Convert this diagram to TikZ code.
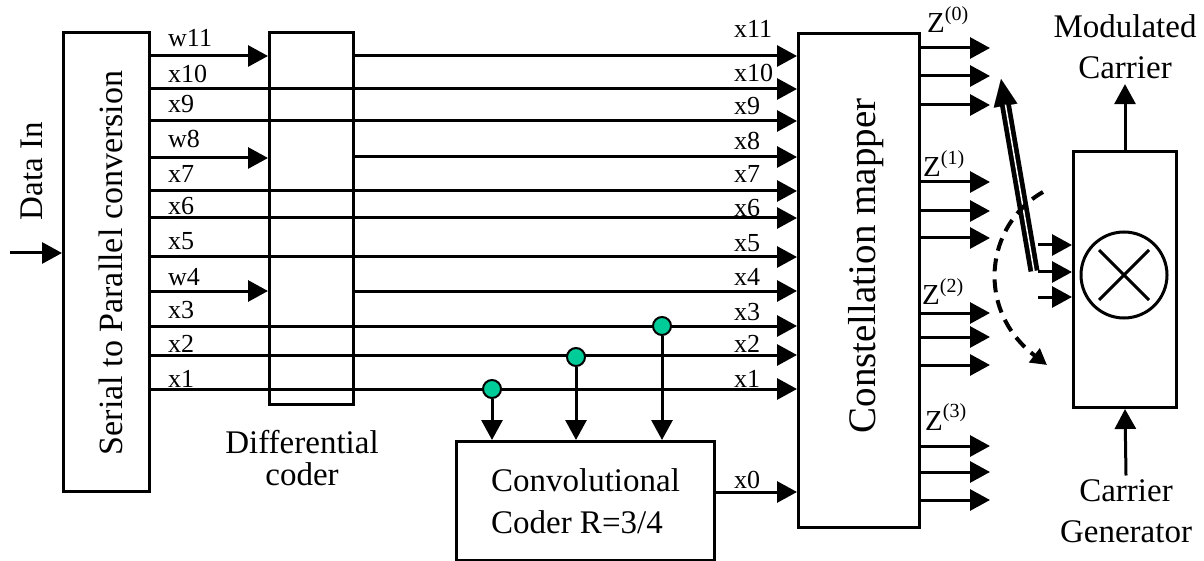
\documentclass[tikz,border=0pt]{standalone}
\usepackage{fontspec}
\setmainfont{Liberation Serif}
\usetikzlibrary{arrows.meta}
\definecolor{dotgreen}{RGB}{0,204,153}
\begin{document}
\begin{tikzpicture}[x=1pt,y=-1pt,
  ln/.style={line width=3pt},
  arr/.style={ln,-{Triangle[length=20pt,width=21pt]}},
  box/.style={draw,line width=3pt,inner sep=0pt,anchor=north west},
  lab/.style={font=\fontsize{26}{30}\selectfont,anchor=base west,inner sep=0pt},
  big/.style={font=\fontsize{33}{41}\selectfont,inner sep=0pt},
  zlab/.style={font=\fontsize{29}{30}\selectfont,anchor=base west,inner sep=0pt},
  tap/.style={circle,draw,line width=2pt,fill=dotgreen,minimum size=18pt,inner sep=0pt},
]
\useasboundingbox (0,0) rectangle (1204,561);

% blocks
\node[box,minimum width=86pt,minimum height=459pt] (sp) at (62,31) {};
\node[box,minimum width=84pt,minimum height=372pt] (dc) at (268,31) {};
\node[box,minimum width=121pt,minimum height=494pt] (cm) at (797,32) {};
\node[box,minimum width=258pt,minimum height=119pt,align=left,
      font=\fontsize{33}{42}\selectfont] (cc) at (455,440) {Convolutional\\Coder R=3/4};
\node[box,minimum width=103pt,minimum height=256pt] (mod) at (1072,150) {};
\node[circle,draw,line width=3pt,minimum size=86pt,inner sep=0pt] (mix) at (1124,275) {};
\draw[ln] ([shift={(-25,-25)}]mix.center) -- ([shift={(25,25)}]mix.center);
\draw[ln] ([shift={(-25,25)}]mix.center) -- ([shift={(25,-25)}]mix.center);

% block texts
\node[font=\fontsize{34}{40}\selectfont,inner sep=0pt,rotate=90,anchor=base] (sptext) at (122,263) {Serial to Parallel conversion};
\node[font=\fontsize{39}{44}\selectfont,inner sep=0pt,rotate=90,anchor=base] (cmtext) at (875,266) {Constellation mapper};
\node[big,rotate=90,anchor=base] (datain) at (42,171) {Data In};
\node[big,font=\fontsize{33}{32}\selectfont,align=center,anchor=north] (dctext) at (302,430.5) {Differential\\coder};
\node[big,align=center,anchor=north] (mc) at (1125,14.5) {Modulated\\Carrier};
\node[big,align=center,anchor=north] (cg) at (1126,479.5) {Carrier\\Generator};

% data in
\coordinate (din) at (10,253);
\draw[arr] (din) -- (sp.west |- din);

% serial-to-parallel to differential coder
\foreach \y in {56,158,291} {
  \coordinate (h) at (0,\y);
  \draw[arr] (sp.east |- h) -- (dc.west |- h);
}
% serial-to-parallel straight to mapper
\foreach \y in {89,121,191,218,257,326,355,389} {
  \coordinate (h) at (0,\y);
  \draw[arr] (sp.east |- h) -- (cm.west |- h);
}
% differential coder to mapper
\foreach \y in {56,157,291} {
  \coordinate (h) at (0,\y);
  \draw[arr] (dc.east |- h) -- (cm.west |- h);
}
% convolutional coder
\node[tap] (t1) at (492,389) {};
\node[tap] (t2) at (576,357) {};
\node[tap] (t3) at (662,326) {};
\draw[arr] (t1.south) -- (t1.south |- cc.north);
\draw[arr] (t2.south) -- (t2.south |- cc.north);
\draw[arr] (t3.south) -- (t3.south |- cc.north);
\coordinate (h0) at (0,492);
\draw[arr] (cc.east |- h0) -- (cm.west |- h0);

% left labels
\node[lab] at (168,47) {w11};
\node[lab] at (168,83) {x10};
\node[lab] at (168,113) {x9};
\node[lab] at (168,148) {w8};
\node[lab] at (168,183) {x7};
\node[lab] at (168,215) {x6};
\node[lab] at (168,250) {x5};
\node[lab] at (168,285) {w4};
\node[lab] at (168,318) {x3};
\node[lab] at (168,352) {x2};
\node[lab] at (168,387) {x1};
% right labels
\node[lab] at (734,38) {x11};
\node[lab] at (734,82) {x10};
\node[lab] at (734,115) {x9};
\node[lab] at (734,150) {x8};
\node[lab] at (734,183) {x7};
\node[lab] at (734,217) {x6};
\node[lab] at (734,252) {x5};
\node[lab] at (734,285) {x4};
\node[lab] at (734,320) {x3};
\node[lab] at (734,352) {x2};
\node[lab] at (734,387) {x1};
\node[lab] at (734,488) {x0};

% mapper outputs
\foreach \y in {48,76,105,182,211,238,313,337,365,446,472,500} {
  \coordinate (h) at (0,\y);
  \draw[arr] (cm.east |- h) -- ++(69,0);
}
\node[zlab] at (927,33) {Z\raisebox{0.42em}{\fontsize{20}{20}\selectfont(0)}};
\node[zlab] at (923,177) {Z\raisebox{0.42em}{\fontsize{20}{20}\selectfont(1)}};
\node[zlab] at (922,305) {Z\raisebox{0.42em}{\fontsize{20}{20}\selectfont(2)}};
\node[zlab] at (925,430) {Z\raisebox{0.42em}{\fontsize{20}{20}\selectfont(3)}};

% modulator inputs
\coordinate (in1) at (1038,245);
\coordinate (in2) at (1038,272);
\coordinate (in3) at (1038,297);
\draw[arr] (in1) -- (mod.west |- in1);
\draw[arr] (in2) -- (mod.west |- in2);
\draw[arr] (in3) -- (mod.west |- in3);

% modulated carrier and carrier generator
\draw[arr] (mod.north) -- ([yshift=-5pt]mc.south);
\draw[arr] ([yshift=4pt]cg.north) -- (mod.south);

% double arrow
\coordinate (dbot) at (1034,271);
\coordinate (dtop) at (1001,79);
\draw[line width=0.1pt,-{Triangle[length=27pt,width=24pt]}] (dbot) -- (dtop);
\draw[line width=11pt,shorten >=26pt] (dbot) -- (dtop);
\draw[white,line width=1.5pt,shorten >=26pt] (dbot) -- (dtop);

% dashed curved arrow
\coordinate (ds) at (1043,192);
\coordinate (de) at (1047,365);
\draw[line width=4pt,dash pattern=on 13pt off 8pt,-{Triangle[length=16pt,width=17pt]}]
  (ds) .. controls (985,225) and (975,310) .. (de);
\end{tikzpicture}
\end{document}
